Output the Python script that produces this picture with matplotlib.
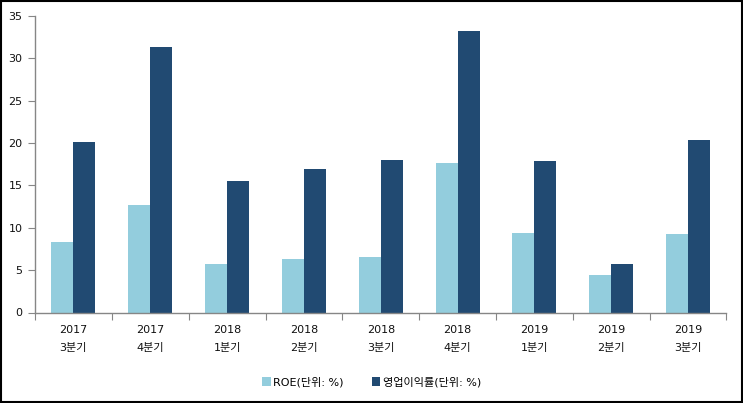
import matplotlib
matplotlib.use("Agg")
import matplotlib.pyplot as plt
import numpy as np
from matplotlib.patches import Rectangle

plt.rcParams['font.family'] = ['DejaVu Sans', 'Noto Sans CJK KR']

categories = ["2017\n3분기", "2017\n4분기", "2018\n1분기", "2018\n2분기", "2018\n3분기",
              "2018\n4분기", "2019\n1분기", "2019\n2분기", "2019\n3분기"]
roe = [8.3, 12.7, 5.7, 6.3, 6.55, 17.6, 9.35, 4.4, 9.25]
op_margin = [20.1, 31.3, 15.5, 16.9, 18.0, 33.2, 17.9, 5.7, 20.35]
series_names = ["ROE(단위: %)", "영업이익률(단위: %)"]
yticks = [0, 5, 10, 15, 20, 25, 30, 35]

c_light = "#93CDDD"
c_dark = "#214A72"
axis_gray = "#868686"

fig = plt.figure(figsize=(7.43, 4.03), dpi=100)
ax = fig.add_axes([35/743, 1-312.5/403, (726.5-35)/743, (312.5-16)/403])

x = np.arange(len(categories))
w = 0.286
ax.bar(x - w/2, roe, width=w, color=c_light, label=series_names[0])
ax.bar(x + w/2, op_margin, width=w, color=c_dark, label=series_names[1])

ax.set_xlim(-0.5, len(categories) - 0.5)
ax.set_ylim(0, 35)
ax.set_yticks(yticks)
ax.set_yticklabels([str(v) for v in yticks], fontsize=8, color="#111111")

# category boundary ticks
ax.set_xticks(np.arange(len(categories) + 1) - 0.5)
ax.set_xticklabels([])
ax.set_xticks(x, minor=True)
ax.set_xticklabels(categories, minor=True, fontsize=8, linespacing=1.95, color="#111111")
ax.tick_params(axis='x', which='minor', length=0, pad=9)
ax.tick_params(axis='x', which='major', length=5, color=axis_gray, direction='out')
ax.tick_params(axis='y', length=5, color=axis_gray, direction='out', pad=4)

for s in ["top", "right"]:
    ax.spines[s].set_visible(False)
for s in ["left", "bottom"]:
    ax.spines[s].set_color(axis_gray)
    ax.spines[s].set_linewidth(1.0)

leg = fig.legend(loc="center", bbox_to_anchor=(0.5, 1-382/403), ncol=2, frameon=False,
                 fontsize=8, handlelength=0.8, handleheight=0.8, handletextpad=0.2,
                 columnspacing=2.5)

fig.patches.append(Rectangle((0.0015, 0.0025), 0.997, 0.995, transform=fig.transFigure,
                             fill=False, edgecolor="black", linewidth=1.5))

fig.savefig("out.png", dpi=100)
